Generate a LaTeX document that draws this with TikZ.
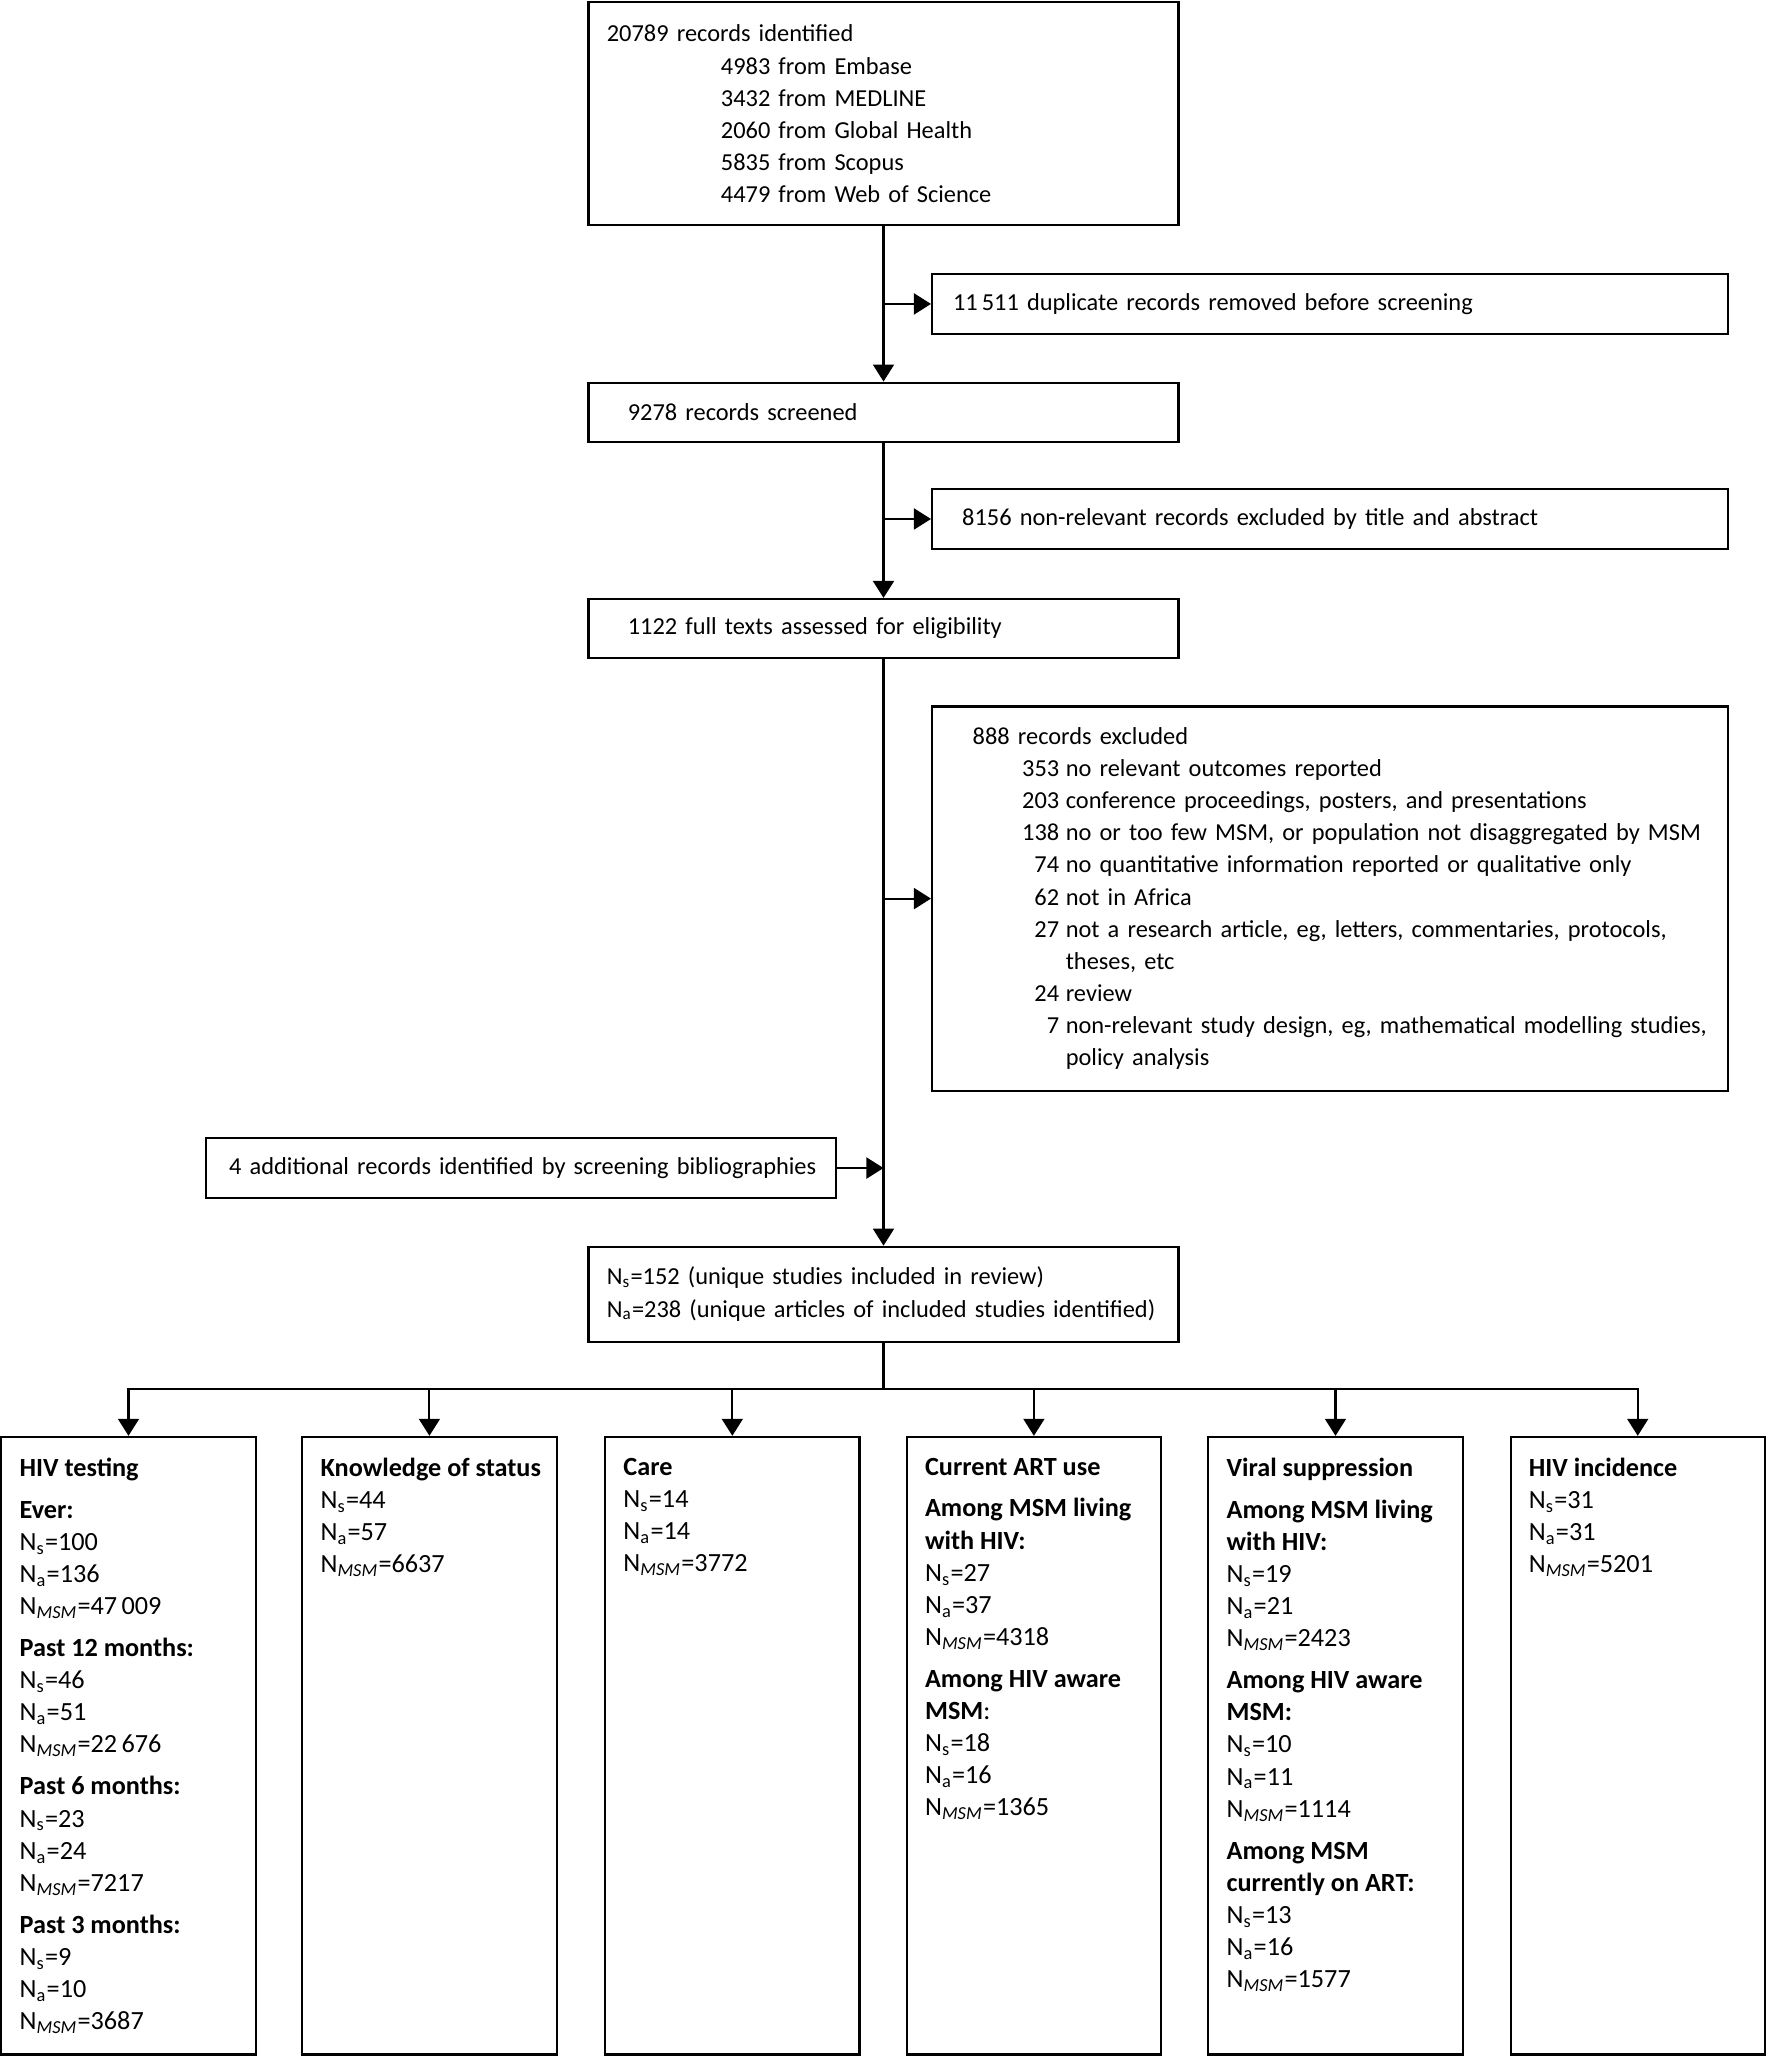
\documentclass[tikz,border=0pt]{standalone}
\usepackage{fontspec}
\setmainfont{Carlito}
\usetikzlibrary{arrows.meta}

\newcommand\recfont{\fontsize{9.3}{12.25}\selectfont}
\newcommand\outfont{\fontsize{10}{12.25}\selectfont}
\newcommand\Ns[1]{N\textsubscript{s}=#1}
\newcommand\Na[1]{N\textsubscript{a}=#1}
\newcommand\Nmsm[1]{N\textsubscript{\itshape MSM}=#1}
\newcommand\excl[1]{\makebox[33pt][r]{#1}}
\newcommand\outtext[1]{\parbox[t][219.5pt][t]{83pt}{\outfont\raggedright #1}}

\begin{document}
\begin{tikzpicture}[x = 0.5pt, y = -0.5pt,
    stepbox/.style = {draw, thick, anchor = north west, inner xsep = 7pt,
      inner ysep = 0pt, align = left, font = \recfont},
    outcome/.style = {draw, thick, anchor = north, inner xsep = 7pt, inner ysep = 8pt},
    flow/.style = {thick, -{Triangle[length = 6.5pt, width = 8pt]}}]
        \useasboundingbox (0,0) rectangle (1348,1568);

        % draws the search and screening steps
        \node[stepbox, text width = 211pt, minimum height = 85pt] (records) at (448,1)
          {20789 records identified\\
           \hspace*{43.5pt}4983 from Embase\\
           \hspace*{43.5pt}3432 from MEDLINE\\
           \hspace*{43.5pt}2060 from Global Health\\
           \hspace*{43.5pt}5835 from Scopus\\
           \hspace*{43.5pt}4479 from Web of Science};
        \node[stepbox, text width = 289.5pt, minimum height = 23pt] (duplicates) at (710,208)
          {\hspace*{1pt}11\,511 duplicate records removed before screening};
        \node[stepbox, text width = 211pt, minimum height = 22.5pt] (screened) at (448,291)
          {\hspace*{8pt}9278 records screened};
        \node[stepbox, text width = 289.5pt, minimum height = 23pt] (nonrelevant) at (710,372)
          {\hspace*{4.5pt}8156 non-relevant records excluded by title and abstract};
        \node[stepbox, text width = 211pt, minimum height = 22.5pt] (fulltext) at (448,456)
          {\hspace*{8pt}1122 full texts assessed for eligibility};
        \node[stepbox, text width = 289.5pt, minimum height = 146.5pt] (excluded) at (710,538)
          {\begin{tabular}{@{\hspace{8.5pt}}r@{\hspace{2.5pt}}l@{}}
             \multicolumn{2}{@{\hspace{8.5pt}}l@{}}{888 records excluded}\\
             \excl{353} & no relevant outcomes reported\\
             \excl{203} & conference proceedings, posters, and presentations\\
             \excl{138} & no or too few MSM, or population not disaggregated by MSM\\
             \excl{74} & no quantitative information reported or qualitative only\\
             \excl{62} & not in Africa\\
             \excl{27} & not a research article, eg, letters, commentaries, protocols,\\
                       & theses, etc\\
             \excl{24} & review\\
             \excl{7} & non-relevant study design, eg, mathematical modelling studies,\\
                      & policy analysis
           \end{tabular}};
        \node[stepbox, text width = 226.5pt, minimum height = 23pt] (additional) at (156,867)
          {\hspace*{2pt}4 additional records identified by screening bibliographies};
        \node[stepbox, text width = 211pt, minimum height = 36.5pt] (included) at (448,950)
          {\begin{tabular}{@{}l@{}}
             \Ns{152} (unique studies included in review)\\
             \Na{238} (unique articles of included studies identified)
           \end{tabular}};

        % draws the outcome boxes
        \node[outcome] (testing) at (98,1095) {\outtext{%
          \textbf{HIV testing}\\[3.75pt]
          \textbf{Ever:}\\ \Ns{100}\\ \Na{136}\\ \Nmsm{47\,009}\\[3.75pt]
          \textbf{Past 12 months:}\\ \Ns{46}\\ \Na{51}\\ \Nmsm{22\,676}\\[3.75pt]
          \textbf{Past 6 months:}\\ \Ns{23}\\ \Na{24}\\ \Nmsm{7217}\\[3.75pt]
          \textbf{Past 3 months:}\\ \Ns{9}\\ \Na{10}\\ \Nmsm{3687}}};
        \node[outcome] (knowledge) at (327.5,1095) {\outtext{%
          \mbox{\textbf{Knowledge of status}}\\ \Ns{44}\\ \Na{57}\\ \Nmsm{6637}}};
        \node[outcome] (care) at (558.5,1095) {\outtext{%
          \textbf{Care}\\ \Ns{14}\\ \Na{14}\\ \Nmsm{3772}}};
        \node[outcome] (artuse) at (788.5,1095) {\outtext{%
          \textbf{Current ART use}\\[3.75pt]
          \textbf{Among MSM living}\\ \textbf{with HIV:}\\ \Ns{27}\\ \Na{37}\\ \Nmsm{4318}\\[3.75pt]
          \textbf{Among HIV aware}\\ \textbf{MSM}:\\ \Ns{18}\\ \Na{16}\\ \Nmsm{1365}}};
        \node[outcome] (suppression) at (1018.5,1095) {\outtext{%
          \textbf{Viral suppression}\\[3.75pt]
          \textbf{Among MSM living}\\ \textbf{with HIV:}\\ \Ns{19}\\ \Na{21}\\ \Nmsm{2423}\\[3.75pt]
          \textbf{Among HIV aware}\\ \textbf{MSM:}\\ \Ns{10}\\ \Na{11}\\ \Nmsm{1114}\\[3.75pt]
          \textbf{Among MSM}\\ \textbf{currently on ART:}\\ \Ns{13}\\ \Na{16}\\ \Nmsm{1577}}};
        \node[outcome] (incidence) at (1249,1095) {\outtext{%
          \textbf{HIV incidence}\\ \Ns{31}\\ \Na{31}\\ \Nmsm{5201}}};

        % draws the main flow
        \draw[flow] (records) -- (screened);
        \draw[flow] (screened) -- (fulltext);
        \draw[flow] (fulltext) -- (included);

        % draws the side arrows
        \draw[flow] (records.south |- duplicates.west) -- (duplicates.west);
        \draw[flow] (screened.south |- nonrelevant.west) -- (nonrelevant.west);
        \draw[flow] (fulltext.south |- excluded.west) -- (excluded.west);
        \draw[flow] (additional.east) -- (additional.east -| fulltext.south);

        % draws the split into the outcomes
        \draw[thick] (included.south) -- ++(0,35) coordinate (split);
        \draw[thick, line cap = rect] (testing.north |- split) -- (incidence.north |- split);
        \foreach \outc in {testing, knowledge, care, artuse, suppression, incidence}
          \draw[flow] (\outc.north |- split) -- (\outc.north);
      \end{tikzpicture}
\end{document}
